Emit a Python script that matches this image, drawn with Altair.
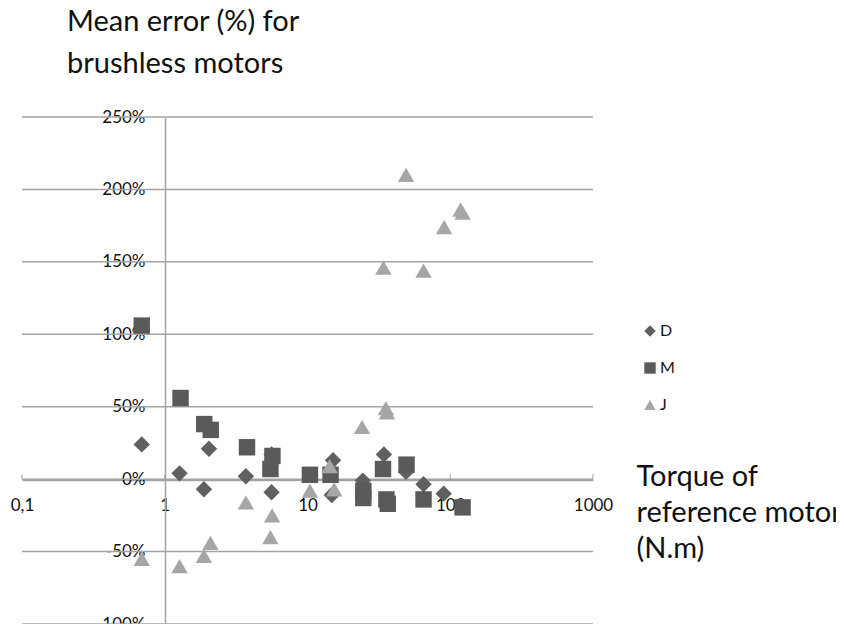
import altair as alt
import pandas as pd

# Torque of reference motor (N.m) and mean error (%) per series
D_x = [0.69, 1.27, 1.88, 2.04, 3.7, 5.6, 5.6, 14.8, 15.1, 24.4, 34.3, 49.0, 65.0, 90.0]
D_y = [24, 4, -7, 21, 2, 17, -9, -11, 13, -1, 17, 5, -3.5, -10]

M_x = [0.69, 1.29, 1.89, 2.1, 3.77, 5.68, 5.5, 10.4, 14.5, 24.6, 24.6, 33.8, 35.7, 36.5, 49.4, 65.0, 122.0]
M_y = [106, 56, 38, 34, 22, 16, 7, 3, 3, -8, -13, 7, -14, -17, 10, -14, -19.5]

J_x = [0.69, 1.27, 1.88, 2.09, 3.7, 5.65, 5.5, 10.4, 14.3, 15.4, 24.1, 34.0, 35.4, 36.0, 49.0, 65.0, 90.6, 118.0, 122.0]
J_y = [-55, -60, -53, -44, -16, -25, -40, -8, 9, -7, 36, 146, 49, 46, 210, 144, 174, 186, 184]

series_names = ["D", "M", "J"]
series_colors = ["#606060", "#5a5a5a", "#a6a6a6"]
series_shapes = ["diamond", "square", "triangle-up"]

x_ticks = [0.1, 1, 10, 100, 1000]
y_ticks = [-100, -50, 0, 50, 100, 150, 200, 250]

rows = []
for name, xs, ys in [("D", D_x, D_y), ("M", M_x, M_y), ("J", J_x, J_y)]:
    for xv, yv in zip(xs, ys):
        rows.append({"series": name, "torque": xv, "error": yv})
df = pd.DataFrame(rows)
df["order"] = df["series"].map({"D": 0, "M": 1, "J": 2})

grid_df = pd.DataFrame({"y": y_ticks})
tick_df = pd.DataFrame({"torque": x_ticks, "error": [0] * len(x_ticks)})

FONT = "Lato"

xscale = alt.Scale(type="log", domain=[0.1, 1000])
yscale = alt.Scale(domain=[-100, 250])

x_axis = alt.Axis(
    values=x_ticks,
    labelExpr="replace(toString(datum.value), '.', ',')",
    offset=-144,
    grid=False,
    ticks=False,
    tickSize=0,
    domainColor="#a3a3a3",
    domainWidth=1.5,
    labelFont=FONT,
    labelFontSize=17,
    labelColor="#111111",
    labelPadding=17,
    labelFlush=False,
    title=["Torque of", "reference motor", "(N.m)"],
    titleFont=FONT,
    titleFontSize=29,
    titleFontWeight="normal",
    titleColor="#111111",
    titleX=614,
    titleY=-18,
    titleAlign="left",
    titleBaseline="top",
    titleAngle=0,
    titleLineHeight=36,
)

y_axis = alt.Axis(
    values=y_ticks,
    labelExpr="datum.value + '%'",
    offset=-143,
    grid=False,
    ticks=False,
    tickSize=0,
    domainColor="#a3a3a3",
    domainWidth=1.5,
    labelFont=FONT,
    labelFontSize=17,
    labelColor="#111111",
    labelPadding=20,
    labelFlush=False,
    title=None,
)

grid = alt.Chart(grid_df).mark_rule(color="#a3a3a3", strokeWidth=1.5).encode(
    y=alt.Y("y:Q", scale=yscale, axis=y_axis)
)

ticks = alt.Chart(tick_df).mark_tick(color="#a3a3a3", size=5, thickness=1.5, yOffset=-2.5).encode(
    x=alt.X("torque:Q", scale=xscale, axis=x_axis),
    y=alt.Y("error:Q", scale=yscale, axis=y_axis),
)

leg = alt.Legend(
    orient="none",
    legendX=620,
    legendY=206,
    title=None,
    labelFont=FONT,
    labelFontSize=16,
    labelColor="#111111",
    symbolSize=130,
    rowPadding=21,
    labelOffset=2,
)

points = alt.Chart(df).mark_point(filled=True, opacity=1, size=270).encode(
    x=alt.X("torque:Q", scale=xscale, axis=x_axis),
    y=alt.Y("error:Q", scale=yscale, axis=y_axis),
    color=alt.Color("series:N", scale=alt.Scale(domain=series_names, range=series_colors), legend=leg),
    shape=alt.Shape("series:N", scale=alt.Scale(domain=series_names, range=series_shapes), legend=leg),
    order=alt.Order("order:Q"),
)

chart = (
    alt.layer(grid, ticks, points)
    .properties(
        width=571,
        height=507,
        title=alt.TitleParams(
            text=["Mean error (%) for", "brushless motors"],
            anchor="start",
            frame="group",
            font=FONT,
            fontSize=29,
            fontWeight="normal",
            color="#111111",
            dx=45,
            offset=29,
            lineHeight=42,
        ),
        padding={"left": 14, "top": 109, "right": 243, "bottom": 0},
        autosize=alt.AutoSizeParams(type="none"),
    )
    .configure_view(stroke=None)
    .configure_axis(zindex=0)
)

chart.save("out.html", embed_options={"renderer": "svg", "actions": False})
